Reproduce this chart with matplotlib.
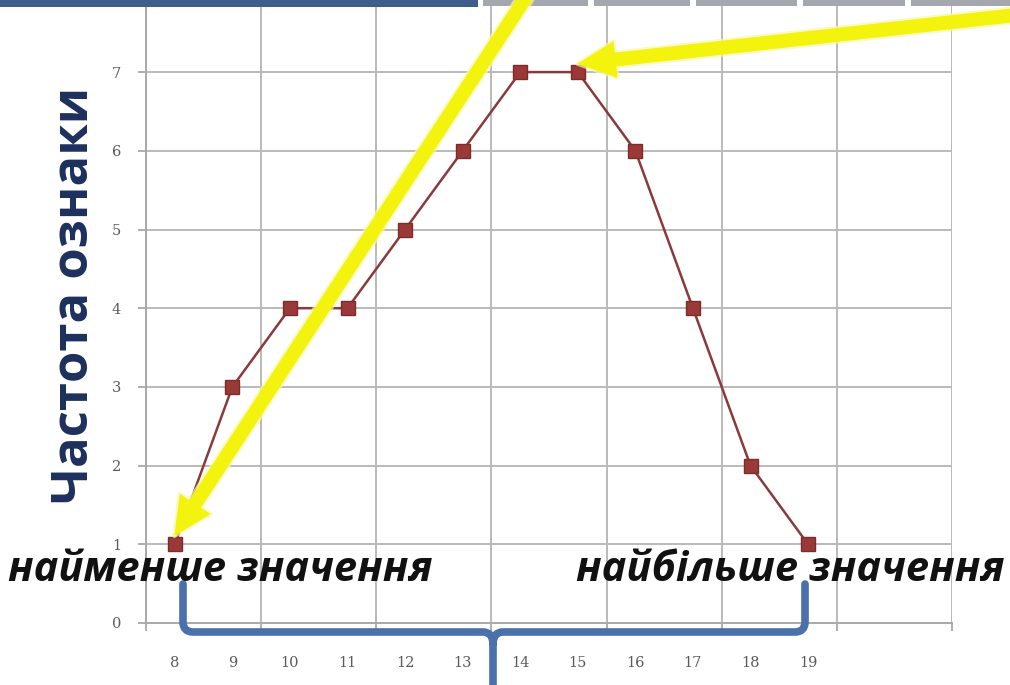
import matplotlib
matplotlib.use('Agg')
import matplotlib.pyplot as plt
from matplotlib.patches import FancyArrowPatch, Rectangle, PathPatch
from matplotlib.path import Path
import matplotlib.patheffects as pe

# frequency polygon of the feature values
values = [8, 9, 10, 11, 12, 13, 14, 15, 16, 17, 18, 19]
freqs = [1, 3, 4, 4, 5, 6, 7, 7, 6, 4, 2, 1]
y_ticks = [0, 1, 2, 3, 4, 5, 6, 7]
grid_x = [7.5, 9.5, 11.5, 13.5, 15.5, 17.5, 19.5, 21.5]
y_title = 'Частота ознаки'
low_label = 'найменше значення'
high_label = 'найбільше значення'

W, H = 1010, 685
fig = plt.figure(figsize=(W / 100, H / 100), dpi=100)
fig.patch.set_facecolor('white')

# plot area in pixels: left 146, right 952, x axis at 623 from the top
ax = fig.add_axes([146 / W, 62 / H, 806 / W, 623 / H])
ax.set_xlim(7.5, 21.5)
ax.set_ylim(0, 623 / 78.7)

grid_col = '#bababa'
for gx in grid_x:
    ax.axvline(gx, color=grid_col, lw=1.4, zorder=1)
for gy in y_ticks[1:]:
    ax.axhline(gy, color=grid_col, lw=1.4, zorder=1)

ax.plot(values, freqs, color='#8a3a3a', lw=1.8, marker='s', markersize=10,
        markerfacecolor='#993a38', markeredgecolor='#7c2c2c', zorder=3)

for s in ['top', 'right']:
    ax.spines[s].set_visible(False)
for s in ['left', 'bottom']:
    ax.spines[s].set_color('#a8a8a8')
    ax.spines[s].set_linewidth(1.4)

ax.set_yticks(y_ticks)
ax.set_xticks(values)
ax.set_xticks(grid_x, minor=True)
tick_font = dict(family='DejaVu Serif', size=10.5)
ax.set_yticklabels([str(v) for v in y_ticks], color='#5a5a5a', **tick_font)
ax.set_xticklabels([str(v) for v in values], color='#5a5a5a', **tick_font)
ax.tick_params(axis='y', length=6, color='#a8a8a8', width=1.3, pad=12)
ax.tick_params(axis='x', which='major', length=0, pad=24)
ax.tick_params(axis='x', which='minor', length=6, color='#a8a8a8', width=1.3)

# overlay in pixel coordinates for the annotations
ov = fig.add_axes([0, 0, 1, 1], zorder=5)
ov.set_xlim(0, W)
ov.set_ylim(H, 0)
ov.axis('off')
ov.patch.set_alpha(0)


def to_px(x, y):
    dx, dy = ax.transData.transform((x, y))
    return dx, H - dy


# strip of the slide header
ov.add_patch(Rectangle((0, 0), 478, 7, color='#3e5f8c', lw=0))
for x0, x1 in [(483, 588), (594, 690), (696, 797), (803, 905), (911, 1012)]:
    ov.add_patch(Rectangle((x0, 0), x1 - x0, 6, color='#a4a8ae', lw=0))

# y axis title
ov.text(75, 295, y_title, rotation=90, ha='center', va='center',
        color='#1d2f5c', fontsize=36.5, fontweight='bold', family='Open Sans')

# labels for the smallest and largest values
lab_font = dict(fontsize=30, fontweight='bold', style='italic', family='Open Sans',
                color='#111111', va='baseline')
ov.text(8, 581, low_label, ha='left', **lab_font)
ov.text(1005, 581, high_label, ha='right', **lab_font)

# brace under the axis
bx0, bx1, bm = 183, 805, 493
by, btop = 632, 584
verts = [(bx0, btop), (bx0, by - 10), (bx0, by), (bx0 + 10, by),
         (bm - 10, by), (bm, by), (bm, by + 12), (bm, H + 5)]
codes = [Path.MOVETO, Path.LINETO, Path.CURVE3, Path.CURVE3,
         Path.LINETO, Path.CURVE3, Path.CURVE3, Path.LINETO]
verts += [(bm, by + 12), (bm, by), (bm + 10, by), (bx1 - 10, by),
          (bx1, by), (bx1, by - 10), (bx1, btop)]
codes += [Path.MOVETO, Path.CURVE3, Path.CURVE3, Path.LINETO,
          Path.CURVE3, Path.CURVE3, Path.LINETO]
ov.add_patch(PathPatch(Path(verts, codes), fill=False, ec='#4a71ab', lw=5.5,
                       capstyle='round', joinstyle='round'))

# yellow pointer arrows
glow = [pe.Stroke(linewidth=3, foreground='#f7f7a8', alpha=0.7), pe.Normal()]
tx, ty = to_px(values[0], freqs[0])
tip1 = (tx - 2, ty - 6)
tx, ty = to_px(values[7], freqs[7])
tip2 = (tx - 3, ty - 8)
for tail, tip in [((528, -6), tip1), ((1016, 15), tip2)]:
    arr = FancyArrowPatch(tail, tip,
                          arrowstyle='simple,head_length=1.25,head_width=1.2,tail_width=0.45',
                          mutation_scale=22, color='#f3f30e', lw=0, zorder=6)
    arr.set_path_effects(glow)
    ov.add_patch(arr)

fig.savefig('out.png', dpi=100)
